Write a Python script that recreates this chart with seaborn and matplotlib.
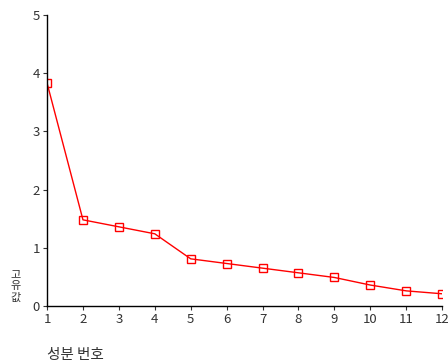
import matplotlib
matplotlib.use("Agg")
import matplotlib.pyplot as plt
import seaborn as sns
import pandas as pd

# Scree plot data
components = [1, 2, 3, 4, 5, 6, 7, 8, 9, 10, 11, 12]
eigenvalues = [3.83, 1.48, 1.36, 1.24, 0.81, 0.73, 0.65, 0.57, 0.49, 0.36, 0.26, 0.21]
x_ticks = [1, 2, 3, 4, 5, 6, 7, 8, 9, 10, 11, 12]
y_ticks = [0, 1, 2, 3, 4, 5]
y_label_chars = ["고", "유", "값"]
x_label = "성분 번호"

sns.set_style("white")
plt.rcParams['font.family'] = ['Noto Sans CJK KR', 'DejaVu Sans']

df = pd.DataFrame({"component": components, "eigenvalue": eigenvalues})

fig = plt.figure(figsize=(4.48, 3.63), dpi=100)
ax = fig.add_axes([0.105, 0.157, 0.882, 0.802])

sns.lineplot(data=df, x="component", y="eigenvalue", ax=ax, color="red",
             linewidth=1, marker="s", markersize=6, markerfacecolor="none",
             markeredgecolor="red", markeredgewidth=1)

ax.set_xlim(1, 12)
ax.set_ylim(0, 5)
ax.set_xticks(x_ticks)
ax.set_yticks(y_ticks)
ax.tick_params(axis="both", labelsize=9.5, colors="#333333", length=3, width=0.8,
               direction="out", left=True, bottom=True, pad=2)
ax.set_xlabel("")
ax.set_ylabel("")
sns.despine(ax=ax)
for s in ("left", "bottom"):
    ax.spines[s].set_color("black")
    ax.spines[s].set_linewidth(1)

# stacked y title, one character per line (horizontal glyphs)
y0 = 1 - 274 / 363
for i, ch in enumerate(y_label_chars):
    fig.text(0.034, y0 - i * 12 / 363, ch, fontsize=8, color="#333333",
             ha="center", va="center")
fig.text(0.105, 1 - 355 / 363, x_label, fontsize=10.5, color="#333333",
         ha="left", va="center")

fig.savefig("out.png", dpi=100)
